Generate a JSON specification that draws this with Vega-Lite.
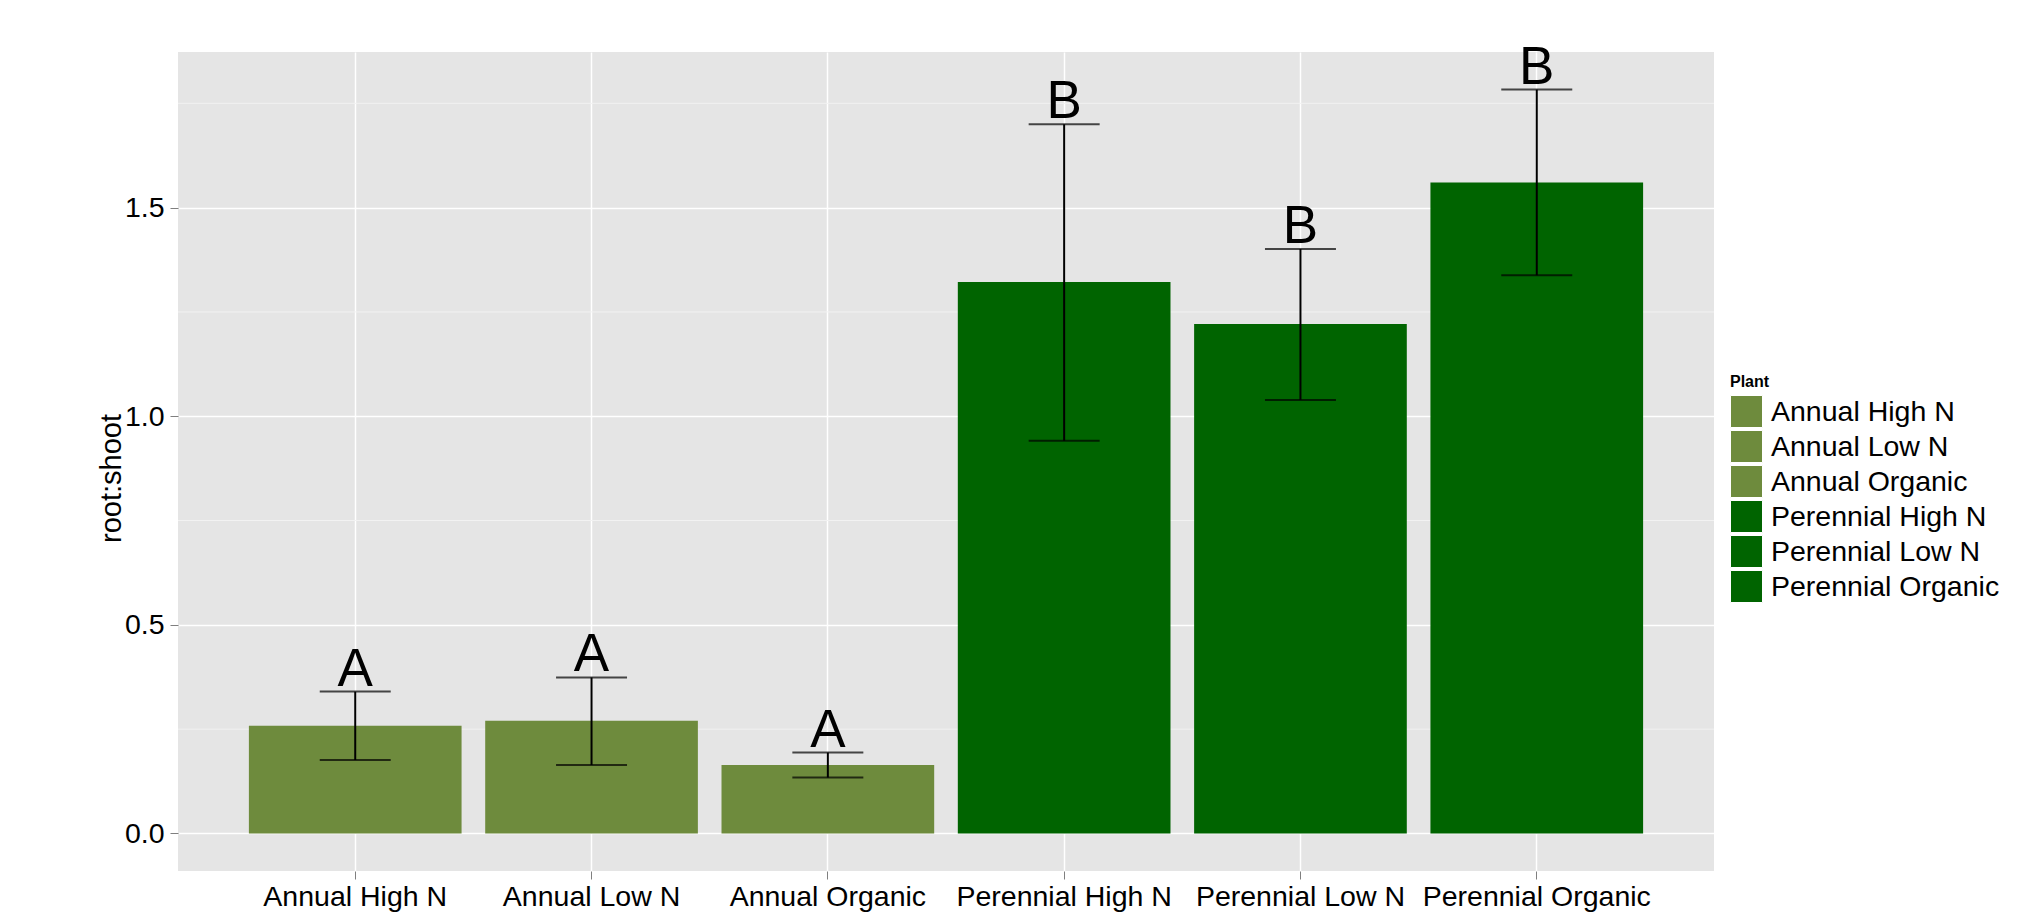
{
  "$schema": "https://vega.github.io/schema/vega-lite/v6.json",
  "width": 1536,
  "height": 819,
  "autosize": "none",
  "padding": {"left": 178, "top": 52, "right": 310, "bottom": 42},
  "background": "white",
  "config": {"view": {"fill": "#E5E5E5", "stroke": null}, "font": "Liberation Sans"},
  "datasets": {
    "bars": [
      {"Plant": "Annual High N", "mean": 0.258, "lower": 0.176, "upper": 0.340, "letter": "A"},
      {"Plant": "Annual Low N", "mean": 0.270, "lower": 0.164, "upper": 0.374, "letter": "A"},
      {"Plant": "Annual Organic", "mean": 0.164, "lower": 0.134, "upper": 0.194, "letter": "A"},
      {"Plant": "Perennial High N", "mean": 1.322, "lower": 0.941, "upper": 1.700, "letter": "B"},
      {"Plant": "Perennial Low N", "mean": 1.221, "lower": 1.039, "upper": 1.401, "letter": "B"},
      {"Plant": "Perennial Organic", "mean": 1.560, "lower": 1.338, "upper": 1.783, "letter": "B"}
    ],
    "minor": [{"v": 0.25}, {"v": 0.75}, {"v": 1.25}, {"v": 1.75}]
  },
  "layer": [
    {
      "data": {"name": "minor"},
      "mark": {"type": "rule", "color": "#F2F2F2", "strokeWidth": 1},
      "encoding": {
        "y": {
          "field": "v", "type": "quantitative",
          "scale": {"domain": [-0.09, 1.873], "nice": false, "zero": false},
          "axis": {
            "title": "root:shoot", "values": [0, 0.5, 1, 1.5], "format": ".1f",
            "labelFontSize": 28.5, "labelColor": "black", "tickColor": "#7F7F7F", "tickSize": 8, "tickWidth": 1,
            "domain": false, "grid": true, "gridColor": "white", "gridWidth": 1.5, "labelPadding": 6,
            "titleFontSize": 29, "titleFontWeight": "normal", "titleColor": "black",
            "titleX": -58, "titleY": 426, "titleBaseline": "alphabetic"
          }
        }
      }
    },
    {
      "data": {"name": "bars"},
      "mark": {"type": "bar"},
      "encoding": {
        "x": {
          "field": "Plant", "type": "nominal",
          "sort": ["Annual High N", "Annual Low N", "Annual Organic", "Perennial High N", "Perennial Low N", "Perennial Organic"],
          "scale": {"type": "band", "paddingInner": 0.1, "paddingOuter": 0.3},
          "axis": {
            "title": null, "labelFontSize": 28.5, "labelColor": "black", "labelAngle": 0,
            "tickColor": "#7F7F7F", "tickSize": 8, "tickWidth": 1, "domain": false,
            "grid": true, "gridColor": "white", "gridWidth": 1.5, "bandPosition": 0.5,
            "labelPadding": 3, "labelLimit": 400
          }
        },
        "y": {
          "field": "mean", "type": "quantitative", "title": "root:shoot",
          "scale": {"domain": [-0.09, 1.873], "nice": false, "zero": false}
        },
        "y2": {"datum": 0},
        "fill": {
          "field": "Plant", "type": "nominal",
          "scale": {
            "domain": ["Annual High N", "Annual Low N", "Annual Organic", "Perennial High N", "Perennial Low N", "Perennial Organic"],
            "range": ["#6E8B3D", "#6E8B3D", "#6E8B3D", "#006400", "#006400", "#006400"]
          },
          "legend": {
            "orient": "none", "legendX": 1552, "legendY": 322, "title": "Plant",
            "titleFontSize": 16, "titleFontWeight": "bold", "titleColor": "black", "titlePadding": 5,
            "labelFontSize": 28.5, "labelColor": "black", "labelLimit": 400, "labelOffset": 8,
            "symbolType": "square", "symbolSize": 1024, "symbolStrokeColor": "white", "symbolStrokeWidth": 1,
            "symbolOpacity": 1, "rowPadding": -9, "padding": 0
          }
        }
      }
    },
    {
      "data": {"name": "bars"},
      "mark": {"type": "rule", "color": "black", "strokeWidth": 2},
      "encoding": {
        "x": {"field": "Plant", "type": "nominal", "sort": ["Annual High N", "Annual Low N", "Annual Organic", "Perennial High N", "Perennial Low N", "Perennial Organic"]},
        "y": {"field": "lower", "type": "quantitative", "title": "root:shoot", "scale": {"domain": [-0.09, 1.873], "nice": false, "zero": false}},
        "y2": {"field": "upper"}
      }
    },
    {
      "data": {"name": "bars"},
      "mark": {"type": "tick", "color": "black", "thickness": 2, "size": 71},
      "encoding": {
        "x": {"field": "Plant", "type": "nominal", "sort": ["Annual High N", "Annual Low N", "Annual Organic", "Perennial High N", "Perennial Low N", "Perennial Organic"]},
        "y": {"field": "upper", "type": "quantitative", "title": "root:shoot", "scale": {"domain": [-0.09, 1.873], "nice": false, "zero": false}}
      }
    },
    {
      "data": {"name": "bars"},
      "mark": {"type": "tick", "color": "black", "thickness": 2, "size": 71},
      "encoding": {
        "x": {"field": "Plant", "type": "nominal", "sort": ["Annual High N", "Annual Low N", "Annual Organic", "Perennial High N", "Perennial Low N", "Perennial Organic"]},
        "y": {"field": "lower", "type": "quantitative", "title": "root:shoot", "scale": {"domain": [-0.09, 1.873], "nice": false, "zero": false}}
      }
    },
    {
      "data": {"name": "bars"},
      "mark": {"type": "text", "color": "black", "fontSize": 53, "baseline": "alphabetic", "dy": -6, "font": "Liberation Sans"},
      "encoding": {
        "x": {"field": "Plant", "type": "nominal", "sort": ["Annual High N", "Annual Low N", "Annual Organic", "Perennial High N", "Perennial Low N", "Perennial Organic"]},
        "y": {"field": "upper", "type": "quantitative", "title": "root:shoot", "scale": {"domain": [-0.09, 1.873], "nice": false, "zero": false}},
        "text": {"field": "letter"}
      }
    }
  ]
}
